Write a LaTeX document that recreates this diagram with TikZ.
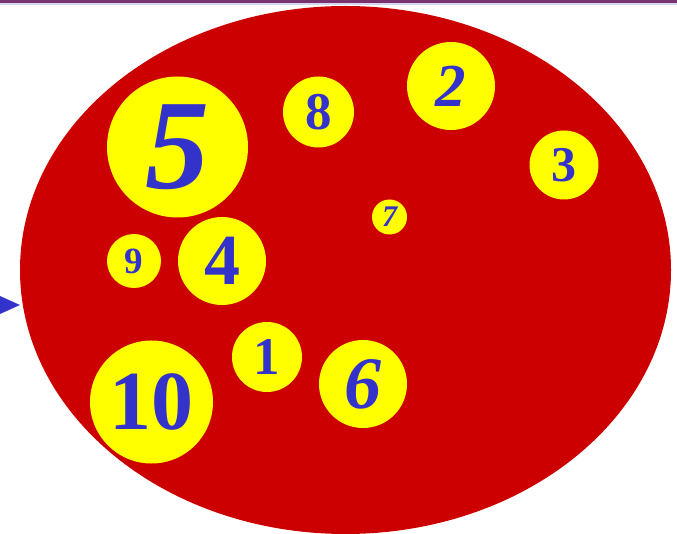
\documentclass[tikz,border=0pt]{standalone}
\usepackage{fontspec}
\setmainfont{Liberation Serif}
\usetikzlibrary{arrows.meta, shapes.geometric}
\definecolor{bagred}{RGB}{204, 0, 0}
\definecolor{ballyellow}{RGB}{255, 255, 0}
\definecolor{numblue}{RGB}{51, 51, 204}
\definecolor{topbar}{RGB}{120, 50, 110}
\definecolor{topshade}{RGB}{215, 215, 240}

\begin{document}
\begin{tikzpicture}[
    x=1pt, y=-1pt,
    bag/.style={
        ellipse, fill=bagred, inner sep=0pt,
        minimum width=651pt, minimum height=528pt
    },
    ball/.style={
        circle, fill=ballyellow, text=numblue, inner sep=0pt,
        minimum size=#1
    },
    num/.style={font=\fontsize{#1}{#1}\selectfont\bfseries},
    slantnum/.style={font=\fontsize{#1}{#1}\selectfont\bfseries\itshape},
    arrow/.style={-{Triangle[length=20pt, width=18pt]}, numblue, line width=0.1pt}
]
\useasboundingbox (0,0) rectangle (677,534);

% TOP RULE
\fill[topshade] (0,3) rectangle (677,5);
\fill[topbar] (0,0) rectangle (677,3);

% BAG
\node[bag] (bag) at (345.5,270) {};

% BALLS
\node[ball=141pt, slantnum=128] (n5) at (177.5,147) {5};
\node[ball=71pt, num=53] (n8) at (318.5,112) {8};
\node[ball=88pt, slantnum=61] (n2) at (451,86) {2};
\node[ball=69pt, num=50] (n3) at (564,165) {3};
\node[ball=35pt, slantnum=30] (n7) at (389.5,217) {7};
\node[ball=54pt, num=37] (n9) at (134,261) {9};
\node[ball=88pt, num=72] (n4) at (222,261) {4};
\node[ball=70pt, num=53] (n1) at (267,357) {1};
\node[ball=88pt, slantnum=74] (n6) at (363,384) {6};
\node[ball=123pt, num=84] (n10) at (151.5,402) {10};

% ARROW INTO THE BAG
\coordinate (feed) at (-2,305);
\draw[arrow] (feed) -- (feed -| bag.west);

\end{tikzpicture}
\end{document}
